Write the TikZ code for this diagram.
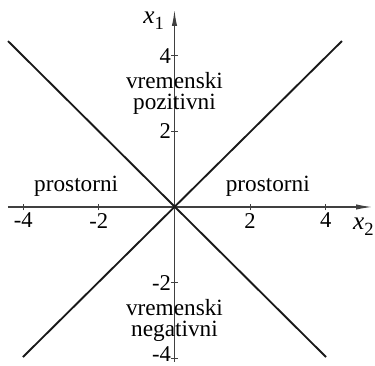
\documentclass[tikz,border=0pt]{standalone}
\usepackage{fontspec}
\setmainfont{Liberation Serif}
\usetikzlibrary{arrows.meta}
\newcommand{\axlab}[2]{{\itshape #1}\raisebox{-0.5ex}{\fontsize{14}{14}\selectfont #2}}
\begin{document}
\begin{tikzpicture}[
  axis/.style={draw=black!75, line width=0.8pt, -{Latex[length=12pt,width=4pt]}},
  diag/.style={draw=black!90, line width=1.4pt},
  tick/.style={draw=black!75, line width=0.8pt},
  lbl/.style={font=\fontsize{17}{15}\selectfont, inner sep=1pt},
  axl/.style={font=\fontsize{19}{15}\selectfont, inner sep=0pt},
  txt/.style={font=\fontsize{17.5}{16}\selectfont, align=center, inner sep=0pt}
]
\useasboundingbox (-4.616,-4.206) rectangle (5.305,5.476);
\coordinate (O) at (0,0);
\coordinate (xl) at (-4.405,0);
\coordinate (xr) at (5.225,0);
\coordinate (yb) at (0,-4.10);
\coordinate (yt) at (0,5.21);
\coordinate (ul) at (-4.405,4.39);
\coordinate (ur) at (4.43,4.39);
\coordinate (ll) at (-4.01,-3.97);
\coordinate (lr) at (4.01,-3.97);
\draw[axis] (xl) -- (xr);
\draw[axis] (yb) -- (yt);
\draw[diag] (ul) -- (lr);
\draw[diag] (ur) -- (ll);
\foreach \v in {-4,-2,2,4}{
  \draw[tick] (\v,-0.09) -- (\v,0.09);
  \draw[tick] (-0.09,\v) -- (0.09,\v);
}
\foreach \v in {-4,-2,2,4}{
  \node[lbl, anchor=north] (xt\v) at (\v,-0.12) {\v};
}
\node[lbl, anchor=east] (yt4) at (-0.05,4) {4};
\node[lbl, anchor=east] (yt2) at (-0.05,2.02) {2};
\node[lbl, anchor=east] (ytm2) at (-0.05,-2.0) {-2};
\node[lbl, anchor=east] (ytm4) at (-0.05,-3.90) {-4};
\node[axl] (x1) at (-0.55,4.93) {\axlab{x}{1}};
\node[axl] (x2) at (5.0,-0.52) {\axlab{x}{2}};
\node[txt] (pl) at (-2.6,0.55) {prostorni};
\node[txt] (pr) at (2.47,0.55) {prostorni};
\node[txt] (vp) at (0,3.0) {vremenski\\pozitivni};
\node[txt] (vn) at (0,-3.0) {vremenski\\negativni};
\end{tikzpicture}
\end{document}
